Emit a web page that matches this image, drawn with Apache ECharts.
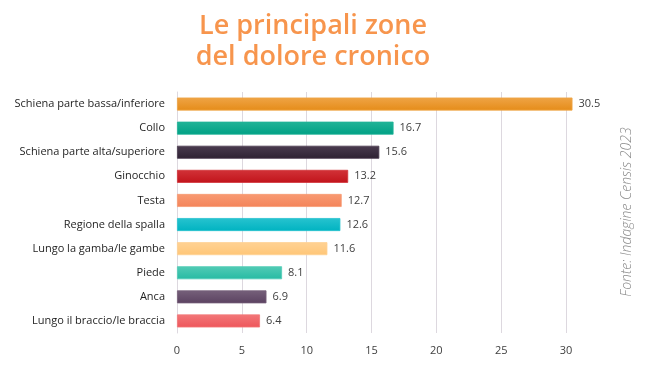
<!DOCTYPE html>
<html><head><meta charset="utf-8">
<script src="https://cdn.jsdelivr.net/npm/echarts@6/dist/echarts.min.js"></script>
<style>html,body{margin:0;padding:0;background:#fff}#c{width:660px;height:365px}</style>
</head><body><div id="c"></div>
<script>
const categories = ["Schiena parte bassa/inferiore","Collo","Schiena parte alta/superiore","Ginocchio","Testa","Regione della spalla","Lungo la gamba/le gambe","Piede","Anca","Lungo il braccio/le braccia"];
const values = [30.5,16.7,15.6,13.2,12.7,12.6,11.6,8.1,6.9,6.4];
const colorsTop = ["#EFA445","#21B497","#4A3B4F","#D23238","#F89A72","#27C3CF","#FFD294","#52CBB6","#76607A","#F27779"];
const colorsBot = ["#E58C19","#00A085","#2E2233","#C1141B","#F4845A","#00B3C1","#FFC677","#27BBA3","#5B4261","#EE565B"];
const xTicks = {min:0,max:30,interval:5};

const chart = echarts.init(document.getElementById('c'));
const data = values.map((v,i)=>({
  value:v,
  itemStyle:{
    color:new echarts.graphic.LinearGradient(0,0,0,1,[{offset:0,color:colorsTop[i]},{offset:1,color:colorsBot[i]}]),
    borderColor:colorsTop[i],borderWidth:0.8
  }
}));
chart.setOption({
  animation:false,
  title:{
    text:"Le principali zone\ndel dolore cronico",
    left:308, top:6, textAlign:'center',
    textStyle:{color:'#F7954D',fontSize:27,fontWeight:600,fontFamily:'Open Sans',lineHeight:31}
  },
  grid:{left:177,right:94,top:92,height:241,containLabel:false},
  xAxis:{
    type:'value',min:xTicks.min,max:xTicks.max,interval:xTicks.interval,
    axisLine:{show:false},axisTick:{show:false},
    axisLabel:{color:'#404040',fontSize:11,fontFamily:'Open Sans',margin:12},
    splitLine:{show:true,lineStyle:{color:'#DDD8DF',width:1}}
  },
  yAxis:{
    type:'category',data:categories,inverse:true,
    axisLine:{show:true,lineStyle:{color:'#DDD8DF'}},axisTick:{show:false},
    axisLabel:{color:'#1F1F1F',fontSize:11,fontFamily:'Open Sans',margin:12}
  },
  series:[{
    type:'bar',data:data,barWidth:13,clip:false,
    label:{show:true,position:'right',distance:6,color:'#404040',fontSize:11,fontFamily:'Open Sans'}
  }],
  graphic:[{
    type:'text',x:627,y:212,rotation:Math.PI/2,
    style:{text:'Fonte: Indagine Censis 2023',fill:'#8A8A8A',fontSize:14,fontStyle:'italic',fontFamily:'Open Sans',fontWeight:300,textAlign:'center',textVerticalAlign:'middle'}
  }]
});
</script></body></html>
